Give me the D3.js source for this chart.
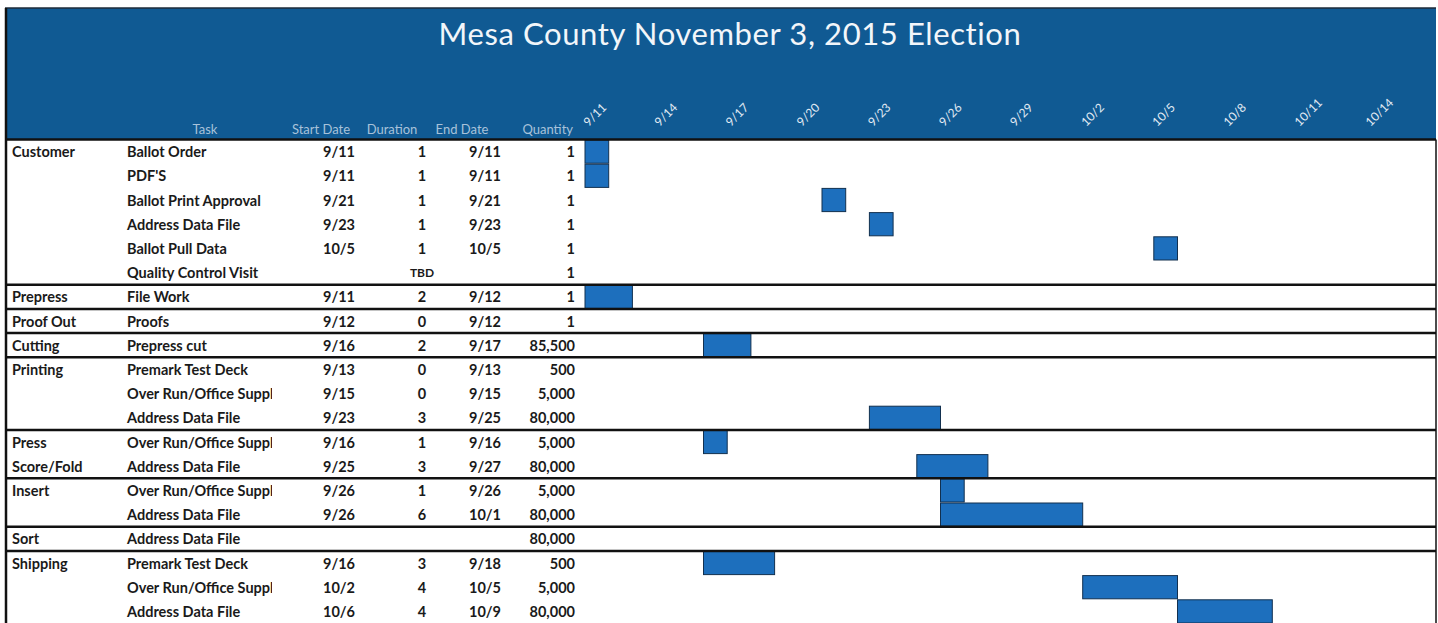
<!DOCTYPE html>
<html>
<head>
<meta charset="utf-8">
<script src="https://cdn.jsdelivr.net/npm/d3@7"></script>
<style>
  body { margin: 0; background: #fff; }
  text { font-family: Lato, "Open Sans", sans-serif; }
</style>
</head>
<body>
<div id="chart"></div>
<script>
// data, one entry per table row
const groupLabels = ["Customer", "", "", "", "", "", "Prepress", "Proof Out", "Cutting", "Printing", "", "",
                     "Press", "Score/Fold", "Insert", "", "Sort", "Shipping", "", ""]
const tasks = ["Ballot Order", "PDF'S", "Ballot Print Approval", "Address Data File", "Ballot Pull Data",
               "Quality Control Visit", "File Work", "Proofs", "Prepress cut", "Premark Test Deck",
               "Over Run/Office Supplies", "Address Data File", "Over Run/Office Supplies", "Address Data File",
               "Over Run/Office Supplies", "Address Data File", "Address Data File", "Premark Test Deck",
               "Over Run/Office Supplies", "Address Data File"]
const startDates = ["9/11", "9/11", "9/21", "9/23", "10/5", "", "9/11", "9/12", "9/16", "9/13", "9/15", "9/23",
                    "9/16", "9/25", "9/26", "9/26", "", "9/16", "10/2", "10/6"]
const durations = ["1", "1", "1", "1", "1", "TBD", "2", "0", "2", "0", "0", "3", "1", "3", "1", "6", "", "3", "4", "4"]
const endDates = ["9/11", "9/11", "9/21", "9/23", "10/5", "", "9/12", "9/12", "9/17", "9/13", "9/15", "9/25",
                  "9/16", "9/27", "9/26", "10/1", "", "9/18", "10/5", "10/9"]
const quantities = ["1", "1", "1", "1", "1", "1", "1", "1", "85,500", "500", "5,000", "80,000", "5,000", "80,000",
                    "5,000", "80,000", "80,000", "500", "5,000", "80,000"]
const tickLabels = ["9/11", "9/14", "9/17", "9/20", "9/23", "9/26", "9/29", "10/2", "10/5", "10/8", "10/11", "10/14"]
const groupBreaks = [6, 7, 8, 9, 12, 14, 16, 17]

const headerBlue = "#105a93"
const barBlue = "#1d6fbd"

function parseDay(s) {
    const [m, d] = s.split("/").map(Number)
    return new Date(Date.UTC(2015, m - 1, d))
}

function drawGantt() {
    const container = d3.select("#chart")
    container.selectAll("*").remove()

    // 1. svg and frame
    const width = 1438
    const height = 623
    const left = 5
    const right = 1436
    const tableTop = 139.5
    const svg = container.append("svg")
                         .attr("width", width)
                         .attr("height", height)

    // 2. scales
    const rows = tasks.map((t, i) => i)
    const yScale = d3.scaleBand()
                     .domain(rows)
                     .range([tableTop, tableTop + 24.2 * rows.length])
    const xScale = d3.scaleUtc()
                     .domain([parseDay("9/11"), parseDay("10/14")])
                     .range([585, 585 + 33 * 23.7])

    // 3. header band
    svg.append("rect")
       .attr("x", left)
       .attr("y", 8)
       .attr("width", right - left)
       .attr("height", tableTop - 8)
       .attr("fill", headerBlue)
    svg.append("line")
       .attr("x1", left).attr("x2", right)
       .attr("y1", 8).attr("y2", 8)
       .attr("stroke", "#1d2b3a")
       .attr("stroke-width", 1.5)
    svg.append("text")
       .text("Mesa County November 3, 2015 Election")
       .attr("x", 730)
       .attr("y", 45)
       .attr("text-anchor", "middle")
       .attr("font-size", "31px")
       .attr("letter-spacing", "0.6px")
       .attr("fill", "#f2f6fa")

    // column headers
    const headers = [
        {label: "Task", x: 205, anchor: "middle"},
        {label: "Start Date", x: 321, anchor: "middle"},
        {label: "Duration", x: 392, anchor: "middle"},
        {label: "End Date", x: 462, anchor: "middle"},
        {label: "Quantity", x: 573, anchor: "end"}
    ]
    svg.append("g")
       .selectAll("text")
       .data(headers)
       .join("text")
       .text(d => d.label)
       .attr("x", d => d.x)
       .attr("y", 134)
       .attr("text-anchor", d => d.anchor)
       .attr("font-size", "13px")
       .attr("fill", "#a8c2da")

    // 4. date axis along the top
    const xAxis = d3.axisTop(xScale)
                    .tickValues(tickLabels.map(parseDay))
                    .tickFormat(d => (d.getUTCMonth() + 1) + "/" + d.getUTCDate())
                    .tickSize(0)
    const axisG = svg.append("g")
                     .attr("class", "x-axis")
                     .attr("transform", "translate(0, 127)")
                     .call(xAxis)
    axisG.select(".domain").remove()
    axisG.selectAll("text")
         .attr("text-anchor", "start")
         .attr("font-size", "12px")
         .attr("fill", "#e2ebf3")
         .attr("transform", "translate(3, 0) rotate(-45)")
         .attr("dx", 0)
         .attr("dy", 0)
         .attr("y", 0)

    // 5. table text
    const rowY = i => yScale(i) + yScale.bandwidth() / 2
    const table = svg.append("g")
                     .attr("font-size", "14.5px")
                     .attr("fill", "#1a1a1a")
                     .attr("dominant-baseline", "central")

    table.selectAll(".group")
         .data(groupLabels)
         .join("text")
         .attr("class", "group")
         .text(d => d)
         .attr("x", 12)
         .attr("y", (d, i) => rowY(i))
         .attr("font-weight", 700)

    svg.append("clipPath")
       .attr("id", "task-clip")
       .append("rect")
       .attr("x", 0).attr("y", 0)
       .attr("width", 272).attr("height", height)
    table.append("g")
         .attr("clip-path", "url(#task-clip)")
         .selectAll("text")
         .data(tasks)
         .join("text")
         .text(d => d)
         .attr("x", 127)
         .attr("y", (d, i) => rowY(i))
         .attr("font-weight", 700)

    table.selectAll(".start")
         .data(startDates)
         .join("text")
         .attr("class", "start")
         .text(d => d)
         .attr("x", 355)
         .attr("y", (d, i) => rowY(i))
         .attr("text-anchor", "end")
         .attr("font-weight", 700)

    table.selectAll(".dur")
         .data(durations)
         .join("text")
         .attr("class", "dur")
         .text(d => d)
         .attr("x", 422)
         .attr("y", (d, i) => rowY(i))
         .attr("text-anchor", "middle")
         .attr("font-weight", 700)
         .attr("font-size", d => d === "TBD" ? "12px" : "14.5px")

    table.selectAll(".end")
         .data(endDates)
         .join("text")
         .attr("class", "end")
         .text(d => d)
         .attr("x", 469)
         .attr("y", (d, i) => rowY(i))
         .attr("font-weight", 700)

    table.selectAll(".qty")
         .data(quantities)
         .join("text")
         .attr("class", "qty")
         .text(d => d)
         .attr("x", 575)
         .attr("y", (d, i) => rowY(i))
         .attr("text-anchor", "end")
         .attr("font-weight", 700)

    // 6. bars
    const barRows = rows.filter(i => startDates[i] !== "" && +durations[i] > 0)
    svg.append("g")
       .selectAll(".bar")
       .data(barRows)
       .join("rect")
       .attr("class", "bar")
       .attr("x", i => xScale(parseDay(startDates[i])))
       .attr("y", i => yScale(i) + 0.5)
       .attr("width", i => xScale(d3.utcDay.offset(parseDay(endDates[i]), 1)) - xScale(parseDay(startDates[i])))
       .attr("height", yScale.bandwidth() - 1)
       .attr("fill", barBlue)
       .attr("stroke", "#12304f")
       .attr("stroke-width", 1)

    // 7. group separators and border
    svg.append("g")
       .selectAll("line")
       .data([0, ...groupBreaks])
       .join("line")
       .attr("x1", left)
       .attr("x2", right)
       .attr("y1", i => yScale(i))
       .attr("y2", i => yScale(i))
       .attr("stroke", "#111")
       .attr("stroke-width", 2.5)
    svg.append("line")
       .attr("x1", left + 1).attr("x2", left + 1)
       .attr("y1", 8).attr("y2", height)
       .attr("stroke", "#111")
       .attr("stroke-width", 2.5)
    svg.append("line")
       .attr("x1", right).attr("x2", right)
       .attr("y1", tableTop).attr("y2", height)
       .attr("stroke", "#111")
       .attr("stroke-width", 1.5)
}

drawGantt()
</script>
</body>
</html>
